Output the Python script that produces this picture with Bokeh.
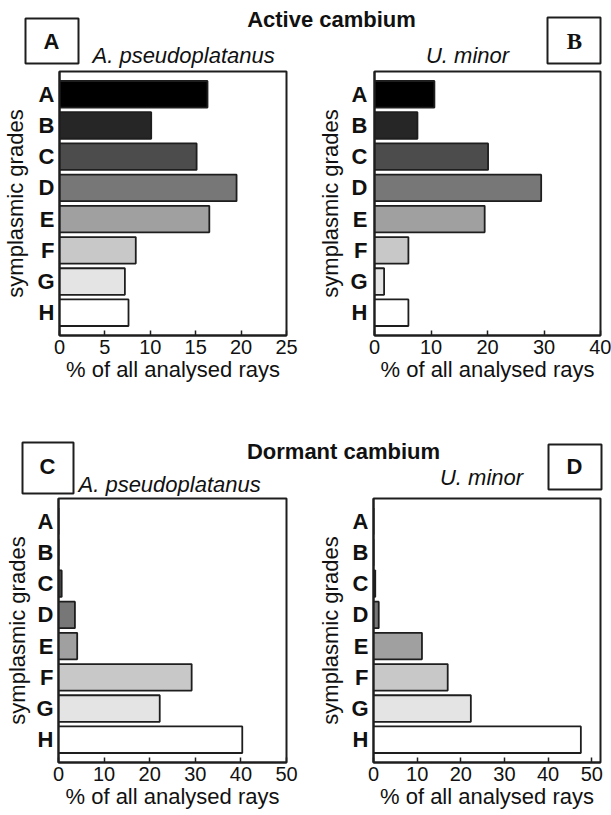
from bokeh.plotting import figure
from bokeh.models import (Range1d, FactorRange, ColumnDataSource, FixedTicker,
                          Label, BoxAnnotation)
from bokeh.layouts import column, row
from bokeh.embed import file_html
from bokeh.resources import INLINE

# ---------------- data ----------------
grades = ["A", "B", "C", "D", "E", "F", "G", "H"]
grade_colors = ["#000000", "#262626", "#4c4c4c", "#777777",
                "#a0a0a0", "#c8c8c8", "#e4e4e4", "#ffffff"]

active_acer = [16.3, 10.1, 15.1, 19.5, 16.5, 8.4, 7.2, 7.6]
active_ulmus = [10.6, 7.6, 20.1, 29.5, 19.5, 6.0, 1.7, 6.0]
dormant_acer = [0.0, 0.0, 0.7, 3.6, 4.1, 29.2, 22.2, 40.3]
dormant_ulmus = [0.0, 0.0, 0.4, 1.2, 11.1, 17.0, 22.3, 47.5]

ticks_25 = [0, 5, 10, 15, 20, 25]
ticks_40 = [0, 10, 20, 30, 40]
ticks_50 = [0, 10, 20, 30, 40, 50]

FONT = "Liberation Sans"
INK = "#1e1e1e"
TXT = "#111111"


def panel(values, xmax, ticks, width, height, left, right, top, bottom,
          ylab_standoff, cat_standoff):
    p = figure(width=width, height=height, output_backend="svg",
               toolbar_location=None, title=None,
               x_range=Range1d(0, xmax),
               y_range=FactorRange(factors=grades[::-1], range_padding=0.23,
                                   range_padding_units="absolute"),
               min_border_left=left, min_border_right=right,
               min_border_top=top, min_border_bottom=bottom)
    src = ColumnDataSource(dict(g=grades, v=values, c=grade_colors))
    p.hbar(y="g", left=0, right="v", height=0.85, source=src,
           fill_color="c", line_color=INK, line_width=1.8)
    p.xgrid.visible = False
    p.ygrid.visible = False
    p.outline_line_color = INK
    p.outline_line_width = 2
    p.background_fill_color = "white"
    p.border_fill_color = "white"

    xa = p.xaxis[0]
    xa.ticker = FixedTicker(ticks=ticks)
    xa.major_tick_in = 5
    xa.major_tick_out = 0
    xa.minor_tick_line_color = None
    xa.axis_line_color = INK
    xa.axis_line_width = 2
    xa.major_tick_line_color = INK
    xa.major_tick_line_width = 1.5
    xa.major_label_text_font = FONT
    xa.major_label_text_font_size = "20px"
    xa.major_label_text_color = TXT
    xa.major_label_standoff = 4
    xa.axis_label = "% of all analysed rays"
    xa.axis_label_text_font = FONT
    xa.axis_label_text_font_size = "22px"
    xa.axis_label_text_font_style = "normal"
    xa.axis_label_text_color = TXT
    xa.axis_label_standoff = 0

    ya = p.yaxis[0]
    ya.major_tick_in = 0
    ya.major_tick_out = 0
    ya.minor_tick_line_color = None
    ya.axis_line_color = INK
    ya.axis_line_width = 2
    ya.major_label_text_font = FONT
    ya.major_label_text_font_size = "22px"
    ya.major_label_text_font_style = "bold"
    ya.major_label_text_color = TXT
    ya.major_label_standoff = cat_standoff
    ya.axis_label = "symplasmic grades"
    ya.axis_label_text_font = FONT
    ya.axis_label_text_font_size = "22px"
    ya.axis_label_text_font_style = "normal"
    ya.axis_label_text_color = TXT
    ya.axis_label_standoff = ylab_standoff
    return p


def header(width, height):
    p = figure(width=width, height=height, output_backend="svg",
               toolbar_location=None, title=None,
               x_range=Range1d(0, width), y_range=Range1d(height, 0),
               x_axis_location=None, y_axis_location=None,
               min_border=0, outline_line_color=None)
    p.xgrid.visible = False
    p.ygrid.visible = False
    return p


def txt(p, x, y, text, size, style="normal", align="center", font=FONT):
    # y is the vertical centre of the text
    p.add_layout(Label(x=x, y=y, text=text, text_font=font,
                       text_font_size=size, text_font_style=style,
                       text_align=align, text_baseline="middle",
                       text_color=TXT))


def box(p, l, r, t, b):
    p.add_layout(BoxAnnotation(left=l, right=r, top=t, bottom=b,
                               fill_color="white", fill_alpha=1.0,
                               line_color=INK, line_alpha=1.0, line_width=2,
                               level="underlay"))


W = 611

# ---- header top (page y 0..69) ----
h1 = header(W, 69)
txt(h1, 331, 19, "Active cambium", "22px", "bold")
box(h1, 25, 78, 18, 63)
txt(h1, 51, 41, "A", "22px", "bold")
txt(h1, 92, 55, "A. pseudoplatanus", "22px", "italic", "left")
txt(h1, 467, 55, "U. minor", "22px", "italic")
box(h1, 547, 600, 17, 63)
txt(h1, 574, 41, "B", "23px", "bold", font="Liberation Serif")

# ---- row 1 (page y 69..395) ----
pA = panel(active_acer, 25, ticks_25, 305, 326, 58, 19, 2, 60, 6, 5)
pB = panel(active_ulmus, 40, ticks_40, 306, 326, 69, 11, 2, 60, 4, 7)

# ---- header bottom (page y 395..496) ----
h2 = header(W, 101)
txt(h2, 343, 56, "Dormant cambium", "22px", "bold")
box(h2, 22, 73, 47, 98)
txt(h2, 47, 71, "C", "22px", "bold")
txt(h2, 78, 89, "A. pseudoplatanus", "22px", "italic", "left")
txt(h2, 481, 82, "U. minor", "22px", "italic")
box(h2, 548, 601, 49, 94)
txt(h2, 574, 71, "D", "22px", "bold")

# ---- row 2 (page y 496..814) ----
pC = panel(dormant_acer, 50, ticks_50, 305, 318, 58, 19, 2, 52, 3, 5)
pD = panel(dormant_ulmus, 52, ticks_50, 306, 318, 68, 11, 2, 52, 5, 5)

layout = column(h1, row(pA, pB), h2, row(pC, pD))
open("out.html", "w").write(file_html(layout, INLINE))
